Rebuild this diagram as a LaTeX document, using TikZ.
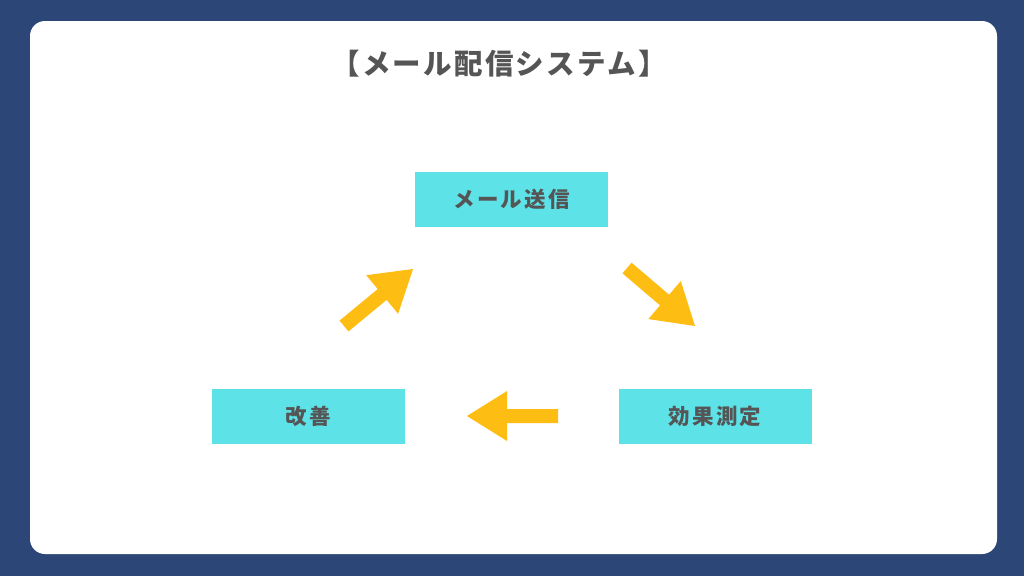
\documentclass[tikz,border=0pt]{standalone}
\usepackage{fontspec}
\usetikzlibrary{calc}
\newfontfamily\titlefont{Noto Sans CJK JP}[LetterSpace=8]
\newfontfamily\jpfont{Noto Sans CJK JP}[LetterSpace=10]
\definecolor{navy}{HTML}{2C4777}
\definecolor{cyanbox}{HTML}{5DE2E7}
\definecolor{arrowc}{HTML}{FDBD13}
\definecolor{txt}{HTML}{555555}
\newcommand\fatarrow[2]{%
  \coordinate (fb) at ($(#2)!40pt!(#1)$);
  \fill[arrowc] ($(#1)!7pt!90:(#2)$) -- ($(fb)!7pt!90:(#2)$) -- ($(fb)!25pt!90:(#2)$)
    -- (#2) -- ($(fb)!25pt!-90:(#2)$) -- ($(fb)!7pt!-90:(#2)$) -- ($(#1)!7pt!-90:(#2)$) -- cycle;
}
\begin{document}
\begin{tikzpicture}[x=1pt,y=-1pt,
  box/.style={fill=cyanbox, minimum width=193pt, minimum height=55pt, inner sep=0pt,
    font=\jpfont\bfseries\fontsize{21.5pt}{24pt}\selectfont, text=txt}]
\useasboundingbox (0,0) rectangle (1024,576);
\fill[navy] (0,0) rectangle (1024,576);
\fill[white, rounded corners=15pt] (30,21) rectangle (997,554);
\node[font=\titlefont\bfseries\fontsize{28.5pt}{32pt}\selectfont, text=txt, inner sep=0pt] (title) at (499,64) {【メール配信システム】};
\node[box] (send) at (511.5,199.5) {メール送信};
\node[box] (improve) at (308.5,416.5) {改善};
\node[box] (measure) at (715,416.5) {効果測定};
\coordinate (a1t) at (344,326); \coordinate (a1h) at (413,269);
\coordinate (a2t) at (627,268); \coordinate (a2h) at (695,326);
\coordinate (a3t) at (558,416); \coordinate (a3h) at (467,416);
\fatarrow{a1t}{a1h}
\fatarrow{a2t}{a2h}
\fatarrow{a3t}{a3h}
\end{tikzpicture}
\end{document}
